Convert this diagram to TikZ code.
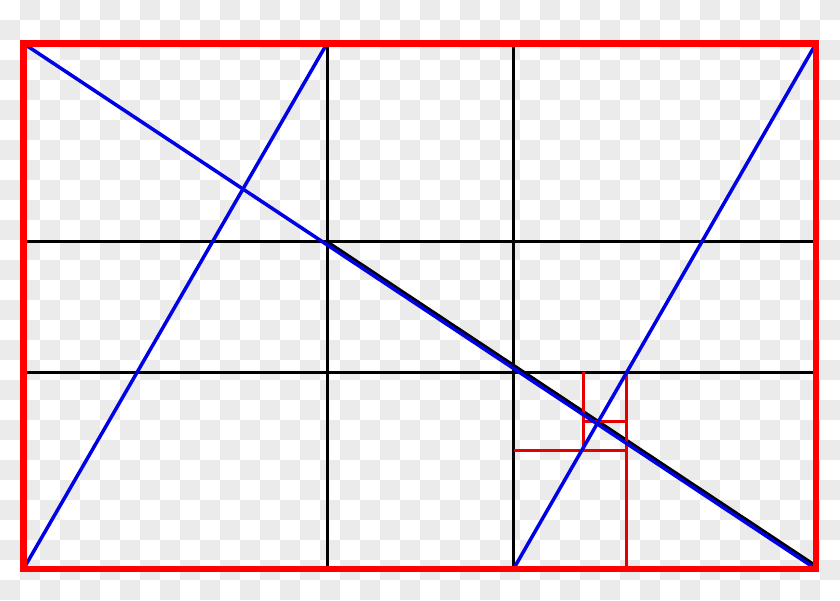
\documentclass[tikz,border=0pt]{standalone}
\usepackage{tikz}
\definecolor{checkgray}{RGB}{235,235,235}
\definecolor{framered}{RGB}{255,0,0}
\definecolor{lineblue}{RGB}{0,0,230}
\tikzset{
  frameline/.style={draw=framered, line width=6.5pt, line join=miter},
  gridline/.style={draw=black, line width=3pt},
  diagline/.style={draw=lineblue, line width=3.5pt},
  spiralline/.style={draw=framered!90!black, line width=3pt},
}
\begin{document}
\begin{tikzpicture}[x=1pt,y=-1pt]
\useasboundingbox (0,0) rectangle (840,600);
% checkerboard background
\fill[white] (0,0) rectangle (840,600);
\foreach \i in {0,...,41}{
  \foreach \j in {0,...,29}{
    \pgfmathparse{int(mod(\i+\j,2))}
    \ifnum\pgfmathresult=1
      \fill[checkgray] (\i*20,\j*20) rectangle ++(20,20);
    \fi
  }
}
% key points
\coordinate (TL) at (23.5,43.5);
\coordinate (TR) at (816,43.5);
\coordinate (BL) at (23.5,569);
\coordinate (BR) at (816,569);
\coordinate (V1t) at (327,43.5);
\coordinate (V1b) at (327,569);
\coordinate (V2t) at (513.5,43.5);
\coordinate (V2b) at (513.5,569);
\coordinate (H1l) at (23.5,241.5);
\coordinate (H1r) at (816,241.5);
\coordinate (H2l) at (23.5,372);
\coordinate (H2r) at (816,372);
\coordinate (X1) at (327,241.5);
\coordinate (Dend) at (816,565.8);
% black grid
\draw[gridline] (V1t) -- (V1b);
\draw[gridline] (V2t) -- (V2b);
\draw[gridline] (H1l) -- (H1r);
\draw[gridline] (H2l) -- (H2r);
\draw[gridline] (X1) -- (Dend);
% red spiral rectangles
\coordinate (S1t) at (626,372);
\coordinate (S1b) at (626,569);
\coordinate (S2l) at (513.5,450);
\coordinate (S2r) at (626,450);
\coordinate (S3t) at (583,372);
\coordinate (S3b) at (583,450);
\coordinate (S4l) at (583,421);
\coordinate (S4r) at (626,421);
\draw[spiralline] (S1t) -- (S1b);
\draw[spiralline] (S2l) -- (S2r);
\draw[spiralline] (S3t) -- (S3b);
\draw[spiralline] (S4l) -- (S4r);
% blue lines
\draw[diagline] (TL) -- (BR);
\draw[diagline] (BL) -- (V1t);
\draw[diagline] (V2b) -- (TR);
% red frame
\draw[frameline] (TL) rectangle (BR);
\end{tikzpicture}
\end{document}
